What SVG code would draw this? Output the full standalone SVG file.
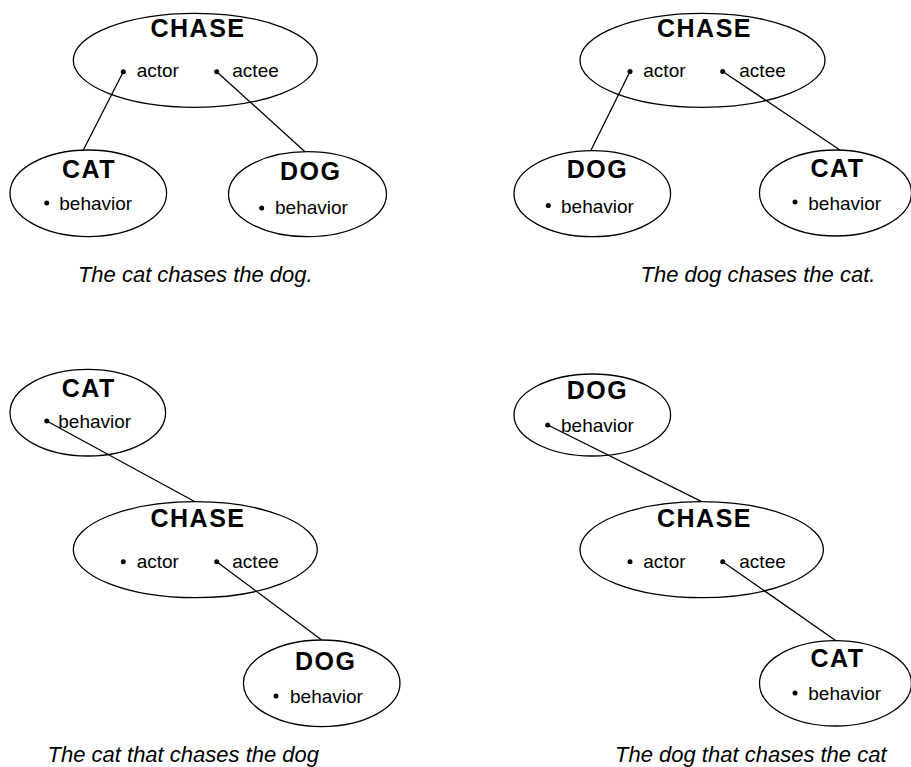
<svg xmlns="http://www.w3.org/2000/svg" width="911" height="767" viewBox="0 0 911 767">
<style>
.node ellipse{fill:none;stroke:#000;stroke-width:1.3}
.title{font-family:"Liberation Sans",Arial,sans-serif;font-weight:bold;font-size:25px;letter-spacing:1.5px;text-anchor:middle;fill:#000}
.slot{font-family:"Liberation Sans",Arial,sans-serif;font-size:19px;fill:#000}
.dot{fill:#000}
.cap{font-family:"Liberation Sans",Arial,sans-serif;font-style:italic;font-size:22px;text-anchor:middle;fill:#000}
.conn line{stroke:#000;stroke-width:1.3}
</style>
<rect width="911" height="767" fill="#fff"/>

<!-- Panel 1 -->
<g id="p1-chase" class="node">
<ellipse cx="195.3" cy="60.3" rx="122" ry="47"/>
<text class="title" x="198" y="37">CHASE</text>
<circle class="dot" cx="123.3" cy="71.7" r="2.5"/><text class="slot" x="136.7" y="77">actor</text>
<circle class="dot" cx="216.7" cy="71.7" r="2.5"/><text class="slot" x="232.3" y="77">actee</text>
</g>
<g id="p1-cat" class="node">
<ellipse cx="88.3" cy="193.3" rx="78.3" ry="43.3"/>
<text class="title" x="89" y="178.3">CAT</text>
<circle class="dot" cx="46.7" cy="203" r="2.5"/><text class="slot" x="59.3" y="210">behavior</text>
</g>
<g id="p1-dog" class="node">
<ellipse cx="307.5" cy="194.2" rx="79" ry="42.5"/>
<text class="title" x="310.7" y="180">DOG</text>
<circle class="dot" cx="261.7" cy="208" r="2.5"/><text class="slot" x="275" y="214">behavior</text>
</g>
<text id="p1-caption" class="cap" x="195.3" y="282">The cat chases the dog.</text>

<!-- Panel 2 -->
<g id="p2-chase" class="node">
<ellipse cx="702.5" cy="60.3" rx="122.5" ry="47"/>
<text class="title" x="704.5" y="37">CHASE</text>
<circle class="dot" cx="630" cy="71.5" r="2.5"/><text class="slot" x="643.3" y="77">actor</text>
<circle class="dot" cx="722.7" cy="71.5" r="2.5"/><text class="slot" x="739.3" y="77">actee</text>
</g>
<g id="p2-dog" class="node">
<ellipse cx="592.3" cy="193.7" rx="78.3" ry="43"/>
<text class="title" x="597.4" y="178.3">DOG</text>
<circle class="dot" cx="548.3" cy="205.5" r="2.5"/><text class="slot" x="561" y="212.5">behavior</text>
</g>
<g id="p2-cat" class="node">
<ellipse cx="835.5" cy="193" rx="76" ry="43"/>
<text class="title" x="837.4" y="177">CAT</text>
<circle class="dot" cx="795" cy="202" r="2.5"/><text class="slot" x="808.3" y="209.5">behavior</text>
</g>
<text id="p2-caption" class="cap" x="758" y="282">The dog chases the cat.</text>

<!-- Panel 3 -->
<g id="p3-cat" class="node">
<ellipse cx="87.8" cy="412.7" rx="77.8" ry="43.3"/>
<text class="title" x="88.7" y="397">CAT</text>
<circle class="dot" cx="46.7" cy="421" r="2.5"/><text class="slot" x="58.3" y="428">behavior</text>
</g>
<g id="p3-chase" class="node">
<ellipse cx="195.3" cy="549.7" rx="122" ry="48"/>
<text class="title" x="198" y="527">CHASE</text>
<circle class="dot" cx="123.3" cy="561.7" r="2.5"/><text class="slot" x="136.7" y="567.5">actor</text>
<circle class="dot" cx="216.7" cy="561.7" r="2.5"/><text class="slot" x="232.3" y="567.5">actee</text>
</g>
<g id="p3-dog" class="node">
<ellipse cx="321.7" cy="683.3" rx="78.3" ry="43.3"/>
<text class="title" x="325.7" y="670">DOG</text>
<circle class="dot" cx="276" cy="696" r="2.5"/><text class="slot" x="290" y="702.7">behavior</text>
</g>
<text id="p3-caption" class="cap" x="183.3" y="762">The cat that chases the dog</text>

<!-- Panel 4 -->
<g id="p4-dog" class="node">
<ellipse cx="592.3" cy="415" rx="78.3" ry="41"/>
<text class="title" x="597.4" y="399.3">DOG</text>
<circle class="dot" cx="547.7" cy="425" r="2.5"/><text class="slot" x="561" y="431.7">behavior</text>
</g>
<g id="p4-chase" class="node">
<ellipse cx="701.7" cy="549.7" rx="121.7" ry="48"/>
<text class="title" x="704.5" y="527">CHASE</text>
<circle class="dot" cx="630" cy="561.7" r="2.5"/><text class="slot" x="643.3" y="567.5">actor</text>
<circle class="dot" cx="722.7" cy="561.7" r="2.5"/><text class="slot" x="739.3" y="567.5">actee</text>
</g>
<g id="p4-cat" class="node">
<ellipse cx="835.5" cy="683.3" rx="76" ry="42.7"/>
<text class="title" x="837.4" y="667">CAT</text>
<circle class="dot" cx="795" cy="693" r="2.5"/><text class="slot" x="808.3" y="700">behavior</text>
</g>
<text id="p4-caption" class="cap" x="750.8" y="762">The dog that chases the cat</text>

<g id="connectors" class="conn">
<line x1="123.3" y1="71.7" x2="83.3" y2="150"/>
<line x1="216.7" y1="71.7" x2="305" y2="151.7"/>
<line x1="630" y1="71.5" x2="590.7" y2="150.7"/>
<line x1="722.7" y1="71.5" x2="840" y2="150"/>
<line x1="46.7" y1="421" x2="195" y2="501.7"/>
<line x1="216.7" y1="561.7" x2="321.7" y2="640"/>
<line x1="547.7" y1="425" x2="701.7" y2="501.7"/>
<line x1="722.7" y1="561.7" x2="836" y2="640.7"/>
</g>
</svg>
